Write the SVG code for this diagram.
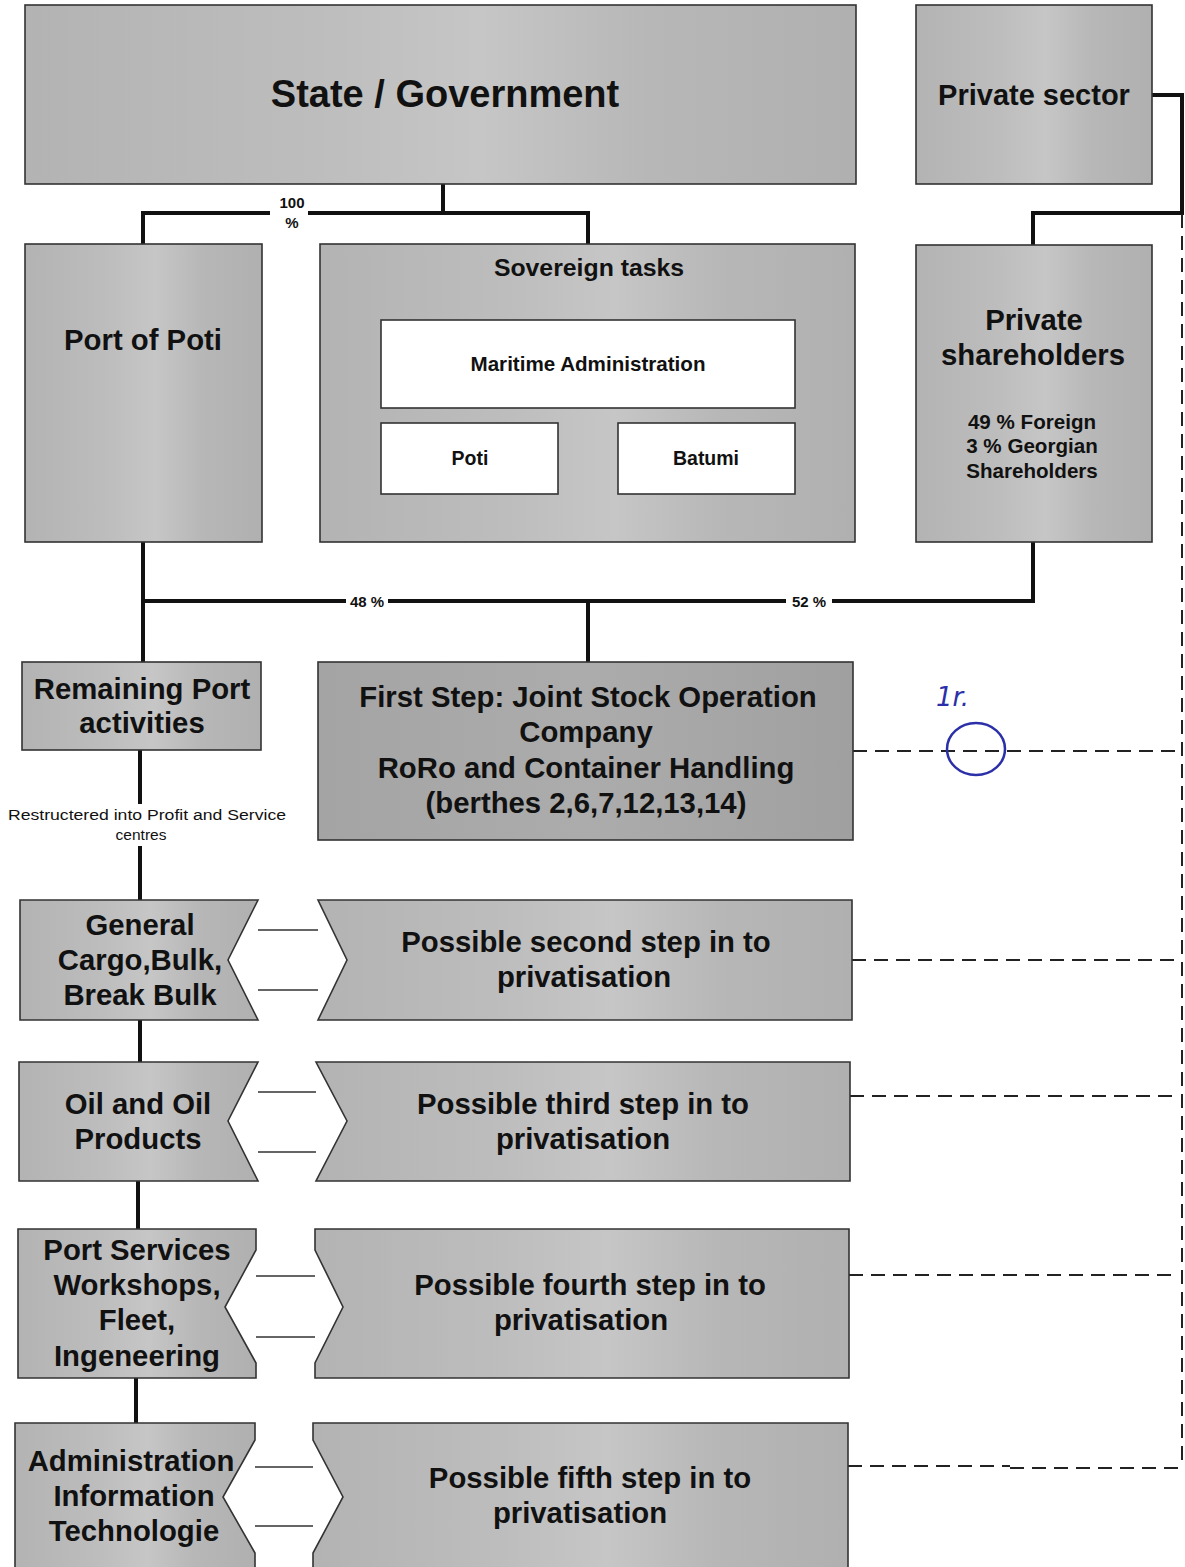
<svg xmlns="http://www.w3.org/2000/svg" width="1185" height="1567" viewBox="0 0 1185 1567">
<defs>
<style>
.box{fill:url(#g1);stroke:#333;stroke-width:1.6}
.dark{fill:url(#g2);stroke:#333;stroke-width:1.6}
.wbox{fill:#fff;stroke:#333;stroke-width:1.6}
.t{font-family:"Liberation Sans",Arial,sans-serif;font-weight:bold;fill:#111;text-anchor:middle}
.s{font-family:"Liberation Sans",Arial,sans-serif;fill:#111;text-anchor:middle}
.b{font-weight:bold}
.con{fill:none;stroke:#111;stroke-width:4}
.dash{fill:none;stroke:#222;stroke-width:2;stroke-dasharray:14 8}
.thin{fill:none;stroke:#333;stroke-width:1.6}
</style>
<linearGradient id="g1" x1="0" y1="0" x2="1" y2="0">
<stop offset="0" stop-color="#b3b3b3"/>
<stop offset="0.35" stop-color="#bdbdbd"/>
<stop offset="0.55" stop-color="#c6c6c6"/>
<stop offset="0.75" stop-color="#b7b7b7"/>
<stop offset="1" stop-color="#b0b0b0"/>
</linearGradient>
<linearGradient id="g2" x1="0" y1="0" x2="1" y2="0">
<stop offset="0" stop-color="#a4a4a4"/>
<stop offset="0.5" stop-color="#acacac"/>
<stop offset="1" stop-color="#a0a0a0"/>
</linearGradient>
</defs>
<rect width="1185" height="1567" fill="#fff"/>

<g id="connectors">
<path class="con" d="M443,184 V213 M143,244 V213 H270 M308,213 H588 V244"/>
<path class="con" d="M1152,95 H1182 V213 H1033 V245"/>
<path class="con" d="M143,542 V662 M143,601 H346 M388,601 H786 M832,601 H1033 V542 M588,601 V662"/>
<path class="con" d="M140,750 V804 M140,846 V900 M140,1020 V1062 M138,1181 V1229 M136,1378 V1423"/>
<path class="dash" d="M1182,214 V1468 M853,751 H1182 M852,960 H1181 M850,1096 H1180 M849,1275 H1178 M848,1466 H1010 M1010,1468 H1178"/>
<text class="s b" x="292" y="208" font-size="15">100</text>
<text class="s b" x="292" y="228" font-size="15">%</text>
<text class="s b" x="367" y="607" font-size="15">48 %</text>
<text class="s b" x="809" y="607" font-size="15">52 %</text>
<text class="s" x="147" y="820" font-size="15.5" textLength="278" lengthAdjust="spacingAndGlyphs">Restructered into Profit and Service</text>
<text class="s" x="141" y="840" font-size="15.5">centres</text>
</g>

<g id="state">
<rect class="box" x="25" y="5" width="831" height="179"/>
<text class="t" x="445" y="107" font-size="38">State / Government</text>
</g>
<g id="private-sector">
<rect class="box" x="916" y="5" width="236" height="179"/>
<text class="t" x="1034" y="105" font-size="29">Private sector</text>
</g>
<g id="port-of-poti">
<rect class="box" x="25" y="244" width="237" height="298"/>
<text class="t" x="143" y="350" font-size="29.3">Port of Poti</text>
</g>
<g id="sovereign">
<rect class="box" x="320" y="244" width="535" height="298"/>
<text class="t" x="589" y="276" font-size="24.8">Sovereign tasks</text>
<g id="maritime">
<rect class="wbox" x="381" y="320" width="414" height="88"/>
<text class="t" x="588" y="371" font-size="20.6">Maritime Administration</text>
</g>
<g id="poti">
<rect class="wbox" x="381" y="423" width="177" height="71"/>
<text class="t" x="470" y="465" font-size="19.5">Poti</text>
</g>
<g id="batumi">
<rect class="wbox" x="618" y="423" width="177" height="71"/>
<text class="t" x="706" y="465" font-size="19.5">Batumi</text>
</g>
</g>
<g id="private-shareholders">
<rect class="box" x="916" y="245" width="236" height="297"/>
<text class="t" x="1034" y="330" font-size="29.3">Private</text>
<text class="t" x="1033" y="365" font-size="29.3">shareholders</text>
<text class="t" x="1032" y="429" font-size="20.6">49 % Foreign</text>
<text class="t" x="1032" y="453" font-size="20.6">3 % Georgian</text>
<text class="t" x="1032" y="478" font-size="20.6">Shareholders</text>
</g>
<g id="remaining">
<rect class="box" x="22" y="662" width="239" height="88"/>
<text class="t" x="142" y="699" font-size="29.3">Remaining Port</text>
<text class="t" x="142" y="733" font-size="29.3">activities</text>
</g>
<g id="first-step">
<rect class="dark" x="318" y="662" width="535" height="178"/>
<text class="t" x="588" y="707" font-size="29.3">First Step: Joint Stock Operation</text>
<text class="t" x="586" y="742" font-size="29.3">Company</text>
<text class="t" x="586" y="778" font-size="29.3">RoRo and Container Handling</text>
<text class="t" x="586" y="813" font-size="29.3">(berthes 2,6,7,12,13,14)</text>
</g>

<g id="row2-left">
<polygon class="box" points="20,900 258,900 228,960 258,1020 20,1020"/>
<text class="t" x="140" y="935" font-size="29.3">General</text>
<text class="t" x="140" y="970" font-size="29.3">Cargo,Bulk,</text>
<text class="t" x="140" y="1005" font-size="29.3">Break Bulk</text>
</g>
<g id="row2-right">
<polygon class="box" points="318,900 852,900 852,1020 318,1020 347,960"/>
<text class="t" x="586" y="952" font-size="29.3">Possible second step in to</text>
<text class="t" x="584" y="987" font-size="29.3">privatisation</text>
</g>
<path class="thin" d="M258,930 H318 M258,990 H318"/>

<g id="row3-left">
<polygon class="box" points="19,1062 258,1062 228,1121 258,1181 19,1181"/>
<text class="t" x="138" y="1114" font-size="29.3">Oil and Oil</text>
<text class="t" x="138" y="1149" font-size="29.3">Products</text>
</g>
<g id="row3-right">
<polygon class="box" points="316,1062 850,1062 850,1181 316,1181 347,1121"/>
<text class="t" x="583" y="1114" font-size="29.3">Possible third step in to</text>
<text class="t" x="583" y="1149" font-size="29.3">privatisation</text>
</g>
<path class="thin" d="M258,1092 H316 M258,1152 H316"/>

<g id="row4-left">
<polygon class="box" points="18,1229 256,1229 256,1250 225,1307 256,1363 256,1378 18,1378"/>
<text class="t" x="137" y="1260" font-size="29.3">Port Services</text>
<text class="t" x="137" y="1295" font-size="29.3">Workshops,</text>
<text class="t" x="137" y="1330" font-size="29.3">Fleet,</text>
<text class="t" x="137" y="1366" font-size="29.3">Ingeneering</text>
</g>
<g id="row4-right">
<polygon class="box" points="315,1229 849,1229 849,1378 315,1378 315,1363 343,1307 315,1250"/>
<text class="t" x="590" y="1295" font-size="29.3">Possible fourth step in to</text>
<text class="t" x="581" y="1330" font-size="29.3">privatisation</text>
</g>
<path class="thin" d="M256,1276 H315 M256,1337 H315"/>

<g id="row5-left">
<polygon class="box" points="15,1423 255,1423 255,1440 223,1497 255,1553 255,1570 15,1570"/>
<text class="t" x="131" y="1471" font-size="29.3">Administration</text>
<text class="t" x="134" y="1506" font-size="29.3">Information</text>
<text class="t" x="134" y="1541" font-size="29.3">Technologie</text>
</g>
<g id="row5-right">
<polygon class="box" points="313,1423 848,1423 848,1570 313,1570 313,1553 343,1497 313,1440"/>
<text class="t" x="590" y="1488" font-size="29.3">Possible fifth step in to</text>
<text class="t" x="580" y="1523" font-size="29.3">privatisation</text>
</g>
<path class="thin" d="M255,1467 H313 M255,1526 H313"/>

<g id="annotation">
<ellipse cx="976" cy="749" rx="29" ry="26" fill="none" stroke="#2b2fa8" stroke-width="2.5"/>
<text x="936" y="706" font-family="'DejaVu Sans',sans-serif" font-size="26" fill="#2b2fa8" font-style="italic">1r.</text>
</g>
</svg>
